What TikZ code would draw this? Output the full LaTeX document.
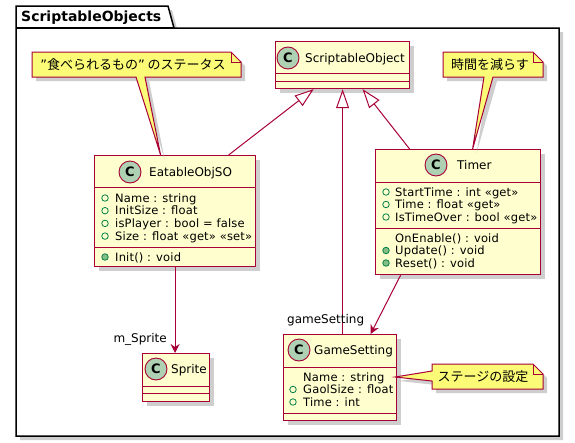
\documentclass[tikz,border=0pt]{standalone}
\usepackage{fontspec}
\setmainfont{DejaVu Sans}
\newfontfamily\jp{Noto Sans CJK JP}
\newfontfamily\memfont{DejaVu Sans}[LetterSpace=1.5]
\usetikzlibrary{arrows.meta,shadows}
\definecolor{umlred}{HTML}{A80036}
\definecolor{clsfill}{HTML}{FEFECE}
\definecolor{badgefill}{HTML}{ADD1B2}
\definecolor{notefill}{HTML}{FBFB77}
\definecolor{mgreen}{HTML}{038048}
\definecolor{mfill}{HTML}{84BE84}
\begin{document}
\begin{tikzpicture}[x=1pt,y=-1pt,
  shad/.style={drop shadow={shadow xshift=4pt,shadow yshift=-4pt,fill=black!35,opacity=0.55}},
  cls/.style={draw=umlred,fill=clsfill,line width=1.2pt,anchor=north west,inner sep=0pt,shad},
  badge/.style={circle,draw=umlred,fill=badgefill,line width=0.9pt,minimum size=22pt,inner sep=0pt,font=\bfseries\fontsize{13}{13}\selectfont},
  ttl/.style={anchor=base west,inner sep=0pt,font=\fontsize{12}{14}\selectfont},
  mem/.style={anchor=base west,inner sep=0pt,font=\memfont\fontsize{11.5}{13}\selectfont},
  fmark/.style={circle,draw=mgreen,line width=0.8pt,minimum size=6.5pt,inner sep=0pt},
  mmark/.style={fmark,fill=mfill},
  sep/.style={draw=umlred,line width=1pt},
  link/.style={draw=umlred,line width=1pt},
  inh/.style={link,{Triangle[open,length=19pt,width=13pt,fill=white]}-},
  assoc/.style={link,-{Stealth[length=9pt,width=9pt,inset=3pt]}},
  notebox/.style={draw=umlred,fill=notefill,line width=1pt,shad},
  notetext/.style={inner sep=0pt,font=\fontsize{13}{15}\selectfont\jp},
  lbl/.style={inner sep=0pt,font=\fontsize{12}{14}\selectfont}
]
\useasboundingbox (0,0) rectangle (575,442);

% package
\path[draw=black,fill=white,line width=1.5pt,shad]
  (16,28) -- (16,6) -- (168,6) -- (174,28) -- (559,28) -- (559,436) -- (16,436) -- cycle;
\draw[black,line width=1.5pt] (16,28) -- (174,28);
\node[anchor=base west,inner sep=0pt,font=\bfseries\fontsize{14}{16}\selectfont] (pkg) at (21,21) {ScriptableObjects};

% ScriptableObject
\node[cls,minimum width=134pt,minimum height=47pt] (so) at (275,41) {};
\draw[sep] (275,73) -- (409,73);
\draw[sep] (275,81) -- (409,81);
\node[badge] (sobadge) at (288,58) {C};
\node[ttl] (sotitle) at (305,62.5) {ScriptableObject};

% EatableObjSO
\node[cls,minimum width=161pt,minimum height=111pt] (eat) at (94,155) {};
\draw[sep] (94,187) -- (255,187);
\draw[sep] (94,247) -- (255,247);
\node[badge] (eatbadge) at (130,172) {C};
\node[ttl] (eattitle) at (149,176.5) {EatableObjSO};
\node[fmark] at (105,198) {};
\node[mem] at (115,202) {Name : string};
\node[fmark] at (105,210.7) {};
\node[mem] at (115,214.7) {InitSize : float};
\node[fmark] at (105,223.4) {};
\node[mem] at (115,227.4) {isPlayer : bool = false};
\node[fmark] at (105,236.1) {};
\node[mem] at (115,240.1) {Size : float «get» «set»};
\node[mmark] at (105,257) {};
\node[mem] at (115,261) {Init() : void};

% Timer
\node[cls,minimum width=165pt,minimum height=125pt] (timer) at (375,149) {};
\draw[sep] (375,182) -- (540,182);
\draw[sep] (375,228) -- (540,228);
\node[badge] (timerbadge) at (436,165) {C};
\node[ttl] (timertitle) at (457,169.5) {Timer};
\node[fmark] at (386,192) {};
\node[mem] at (395,196) {StartTime : int «get»};
\node[fmark] at (386,204.5) {};
\node[mem] at (395,208.5) {Time : float «get»};
\node[fmark] at (386,217) {};
\node[mem] at (395,221) {IsTimeOver : bool «get»};
\node[mem] at (395,242) {OnEnable() : void};
\node[mmark] at (386,250.5) {};
\node[mem] at (395,254.5) {Update() : void};
\node[mmark] at (386,263) {};
\node[mem] at (395,267) {Reset() : void};

% Sprite
\node[cls,minimum width=67pt,minimum height=48pt] (sprite) at (142,353) {};
\draw[sep] (142,386) -- (209,386);
\draw[sep] (142,393) -- (209,393);
\node[badge] (spritebadge) at (156,369) {C};
\node[ttl] (spritetitle) at (171,373.5) {Sprite};

% GameSetting
\node[cls,minimum width=113pt,minimum height=86pt] (gs) at (283,334) {};
\draw[sep] (283,367) -- (396,367);
\draw[sep] (283,413) -- (396,413);
\node[badge] (gsbadge) at (299,350) {C};
\node[ttl] (gstitle) at (314,354.5) {GameSetting};
\node[mem] at (303,381) {Name : string};
\node[fmark] at (293,389.5) {};
\node[mem] at (303,393.5) {GaolSize : float};
\node[fmark] at (293,402) {};
\node[mem] at (303,406) {Time : int};

% inheritance
\draw[inh] ([xshift=-29pt]so.south) -- ([xshift=53.5pt]eat.north);
\draw[inh] (so.south) -- (so.south |- gs.north);
\draw[inh] ([xshift=20pt]so.south) -- ([xshift=-48.5pt]timer.north);

% associations
\draw[assoc] (eat.south) -- (eat.south |- sprite.north);
\node[lbl,anchor=base east] (lsprite) at (167,342) {m\_Sprite};
\draw[assoc] ([xshift=-57.5pt]timer.south) -- ([xshift=30.5pt]gs.north);
\node[lbl,anchor=base west] (lgs) at (287,323) {gameSetting};

% notes
\coordinate (n1tip) at ([xshift=-14.5pt]eat.north);
\path[notebox] (32,52) -- (231,52) -- (241,62) -- (241,77) -- (145,77) -- (n1tip) -- (136,77) -- (32,77) -- cycle;
\draw[umlred,line width=1pt] (231,52) -- (231,62) -- (241,62);
\node[notetext] (note1) at (133,65) {{\normalfont\fontsize{13}{15}\selectfont ”}食べられるもの{\normalfont\fontsize{13}{15}\selectfont ”} のステータス};

\coordinate (n2tip) at ([xshift=14.5pt]timer.north);
\path[notebox] (443,52) -- (533,52) -- (543,62) -- (543,77) -- (493,77) -- (n2tip) -- (484,77) -- (443,77) -- cycle;
\draw[umlred,line width=1pt] (533,52) -- (533,62) -- (543,62);
\node[notetext] (note2) at (490,65) {時間を減らす};

\coordinate (n3tip) at ([xshift=-2pt,yshift=-43pt]gs.north east);
\path[notebox] (432,364) -- (533,364) -- (543,374) -- (543,389) -- (432,389) -- (432,381) -- (n3tip) -- (432,371) -- cycle;
\draw[umlred,line width=1pt] (533,364) -- (533,374) -- (543,374);
\node[notetext] (note3) at (483,377) {ステージの設定};
\end{tikzpicture}
\end{document}
